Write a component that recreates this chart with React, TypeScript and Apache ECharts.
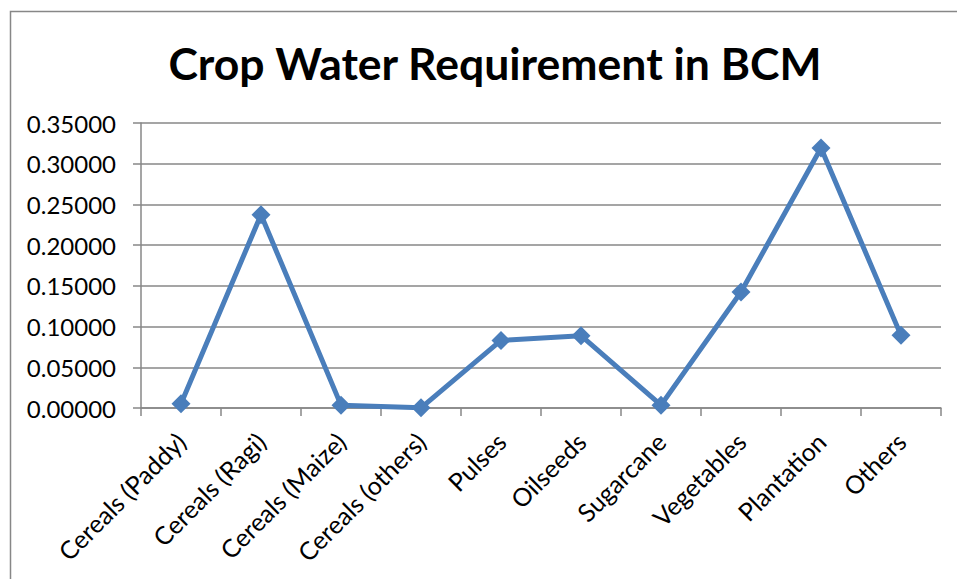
import React, { useEffect, useRef } from "react";
import * as echarts from "echarts";

const categories = [
  "Cereals (Paddy)",
  "Cereals (Ragi)",
  "Cereals (Maize)",
  "Cereals (others)",
  "Pulses",
  "Oilseeds",
  "Sugarcane",
  "Vegetables",
  "Plantation",
  "Others",
];
const values = [0.0053, 0.2374, 0.0035, 0.0002, 0.083, 0.0888, 0.0035, 0.1425, 0.3193, 0.0892];
const titleText = "Crop Water Requirement in BCM";
const yMin = 0;
const yMax = 0.35;
const yStep = 0.05;

const FONT = "Lato";
const GRAY = "#878787";

export default function App() {
  const ref = useRef<HTMLDivElement>(null);
  useEffect(() => {
    if (!ref.current) return;
    const chart = echarts.init(ref.current, undefined, { renderer: "svg" });
    chart.setOption({
      animation: false,
      backgroundColor: "#ffffff",
      title: {
        text: titleText,
        left: 490,
        textAlign: "center",
        top: 35,
        textStyle: { fontFamily: FONT, fontWeight: "bold", fontSize: 44.5, color: "#000" },
      },
      graphic: [
        {
          type: "rect",
          shape: { x: 10.5, y: 11.5, width: 3000, height: 3000 },
          style: { fill: "none", stroke: GRAY, lineWidth: 1.5 },
          silent: true,
        },
      ],
      grid: { left: 141, right: 16, top: 123, bottom: 171, containLabel: false },
      xAxis: {
        type: "category",
        data: categories,
        boundaryGap: true,
        axisLine: { show: true, lineStyle: { color: GRAY, width: 1.5 } },
        axisTick: { show: true, length: 8, alignWithLabel: false, lineStyle: { color: GRAY, width: 1.5 } },
        axisLabel: {
          rotate: 45,
          interval: 0,
          margin: 29,
          fontFamily: FONT,
          fontSize: 25,
          color: "#000",
        },
        splitLine: { show: false },
      },
      yAxis: {
        type: "value",
        min: yMin,
        max: yMax,
        interval: yStep,
        axisLine: { show: true, lineStyle: { color: GRAY, width: 1.5 } },
        axisTick: { show: true, length: 8, lineStyle: { color: GRAY, width: 1.5 } },
        axisLabel: {
          margin: 25,
          fontFamily: FONT,
          fontSize: 24,
          color: "#000",
          formatter: (v: number) => v.toFixed(5),
        },
        splitLine: { show: true, lineStyle: { color: GRAY, width: 1.5 } },
      },
      series: [
        {
          type: "line",
          data: values,
          symbol: "diamond",
          symbolSize: 19,
          itemStyle: { color: "#4a7ebb" },
          lineStyle: { color: "#4a7ebb", width: 5 },
        },
      ],
    });
    return () => chart.dispose();
  }, []);
  return (
    <div
      ref={ref}
      style={{ position: "fixed", left: 0, top: 0, width: 957, height: 579 }}
    />
  );
}
